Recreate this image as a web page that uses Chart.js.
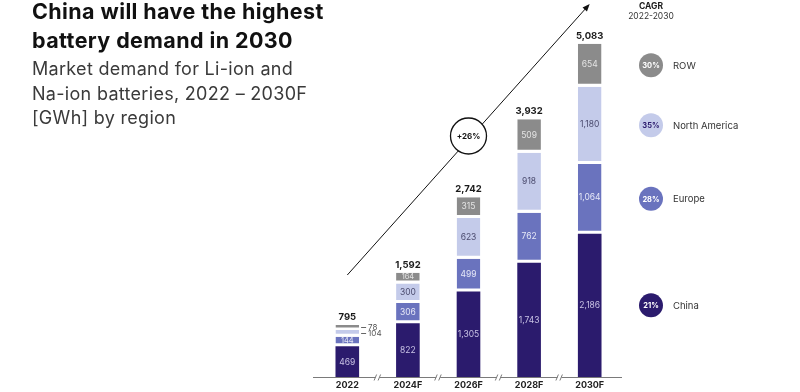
<!DOCTYPE html>
<html><head><meta charset="utf-8">
<script src="https://cdn.jsdelivr.net/npm/chart.js@4/dist/chart.umd.min.js"></script>
<style>
html,body{margin:0;padding:0;background:#fff;width:800px;height:392px;overflow:hidden;}
#wrap{position:relative;width:800px;height:392px;}
canvas{position:absolute;left:0;top:0;}
.t{position:absolute;left:32px;font-family:Inter,sans-serif;white-space:nowrap;}
#title{top:-3px;font-size:21.5px;font-weight:700;line-height:28.5px;color:#111;letter-spacing:0.4px}
#sub{top:57px;font-size:18px;font-weight:400;line-height:24.5px;color:#3a3a3a;letter-spacing:0.3px}
</style></head>
<body><div id="wrap">
<canvas id="c" width="800" height="392"></canvas>
<div class="t" id="title">China will have the highest<br>battery demand in 2030</div>
<div class="t" id="sub">Market demand for Li-ion and<br>Na-ion batteries, 2022 – 2030F<br>[GWh] by region</div>
</div>
<script>
// ---- data ----
const categories = ['2022', '2024F', '2026F', '2028F', '2030F'];
const china = [469, 822, 1305, 1743, 2186];
const europe = [144, 306, 499, 762, 1064];
const northAmerica = [104, 300, 623, 918, 1180];
const rowRegion = [78, 164, 315, 509, 654];
const totalLabels = ['795', '1,592', '2,742', '3,932', '5,083'];
const seriesNames = ['China', 'Europe', 'North America', 'ROW'];
const cagrLabels = ['21%', '28%', '35%', '30%'];
const cagrTitle = 'CAGR';
const cagrPeriod = '2022-2030';
const overallGrowth = '+26%';

// ---- styles ----
const colors = ['#2b1b6d', '#6a73be', '#c4cbea', '#8b8b8b'];
const labelColors = ['#c8c2e4', '#e6e8f7', '#4b4b6e', '#e4e4e4'];
const legendTextColors = ['#ffffff', '#ffffff', '#2b1b6d', '#ffffff'];
const FONT = 'Inter, sans-serif';
const GAP = 3;
const seriesData = [china, europe, northAmerica, rowRegion];

const datasets = seriesData.map((d, i) => ({
  label: seriesNames[i],
  data: d,
  backgroundColor: colors[i],
  borderColor: '#ffffff',
  borderWidth: i === 0 ? 0 : {top: 0, left: 0, right: 0, bottom: GAP},
  borderSkipped: false,
  barPercentage: 0.39,
  categoryPercentage: 1
}));

const annot = {
  id: 'annot',
  afterDatasetsDraw(chart) {
    const ctx = chart.ctx, area = chart.chartArea;
    const xS = chart.scales.x, yS = chart.scales.y;
    const xs = categories.map((c, i) => xS.getPixelForValue(i));
    ctx.save();
    // axis line
    ctx.strokeStyle = '#7a7a7a'; ctx.lineWidth = 1;
    ctx.beginPath(); ctx.moveTo(area.left - 4, area.bottom + 0.5); ctx.lineTo(area.right + 2, area.bottom + 0.5); ctx.stroke();
    // break marks
    for (let i = 0; i < xs.length - 1; i++) {
      const bx = (xs[i] + xs[i + 1]) / 2, by = area.bottom + 0.5;
      ctx.fillStyle = '#fff'; ctx.fillRect(bx - 2, by - 1, 4, 2);
      ctx.beginPath();
      ctx.moveTo(bx - 3.5, by + 3); ctx.lineTo(bx - 1, by - 3);
      ctx.moveTo(bx + 0.5, by + 3); ctx.lineTo(bx + 3, by - 3);
      ctx.stroke();
    }
    // segment labels
    ctx.textAlign = 'center'; ctx.textBaseline = 'middle';
    const ppu = (yS.getPixelForValue(0) - yS.getPixelForValue(1000)) / 1000;
    seriesData.forEach((d, si) => {
      const meta = chart.getDatasetMeta(si);
      meta.data.forEach((el, ci) => {
        const v = d[ci];
        const txt = v.toLocaleString('en-US');
        const h = v * ppu;
        const top = el.y, bot = el.base - (si === 0 ? 0 : GAP);
        const cy = (top + bot) / 2;
        if (h < 8) {
          ctx.strokeStyle = '#666'; ctx.lineWidth = 1;
          const x0 = el.x + el.width / 2 + 2;
          const my = (el.y + el.base) / 2;
          ctx.beginPath(); ctx.moveTo(x0, Math.round(my) + 0.5); ctx.lineTo(x0 + 5, Math.round(my) + 0.5); ctx.stroke();
          ctx.fillStyle = '#555'; ctx.font = '8px ' + FONT; ctx.textAlign = 'left';
          ctx.fillText(txt, x0 + 7, my);
          ctx.textAlign = 'center';
        } else {
          ctx.fillStyle = labelColors[si];
          ctx.font = (h < 14 ? '7.5px ' : '8.5px ') + FONT;
          ctx.fillText(txt, el.x, cy + 0.5);
        }
      });
    });
    // totals
    const lastMeta = chart.getDatasetMeta(seriesData.length - 1);
    ctx.fillStyle = '#1a1a1a'; ctx.font = 'bold 9.5px ' + FONT;
    lastMeta.data.forEach((el, ci) => {
      ctx.fillText(totalLabels[ci], el.x, el.y - 8);
    });
    // growth arrow
    const ax0 = xs[0], ay0 = 275, ax1 = xs[xs.length - 1], ay1 = 4;
    ctx.strokeStyle = '#111'; ctx.lineWidth = 1;
    const ang = Math.atan2(ay1 - ay0, ax1 - ax0);
    ctx.beginPath(); ctx.moveTo(ax0, ay0); ctx.lineTo(ax1 - 5 * Math.cos(ang), ay1 - 5 * Math.sin(ang)); ctx.stroke();
    ctx.fillStyle = '#111';
    ctx.beginPath();
    ctx.moveTo(ax1, ay1);
    ctx.lineTo(ax1 - 8 * Math.cos(ang - 0.38), ay1 - 8 * Math.sin(ang - 0.38));
    ctx.lineTo(ax1 - 8 * Math.cos(ang + 0.38), ay1 - 8 * Math.sin(ang + 0.38));
    ctx.closePath(); ctx.fill();
    // growth circle
    const cx = xs[2], cyc = 136;
    ctx.beginPath(); ctx.arc(cx, cyc, 18, 0, Math.PI * 2);
    ctx.fillStyle = '#fff'; ctx.fill();
    ctx.lineWidth = 1.3; ctx.strokeStyle = '#111'; ctx.stroke();
    ctx.fillStyle = '#111'; ctx.font = 'bold 8px ' + FONT;
    ctx.fillText(overallGrowth, cx, cyc + 0.5);
    // CAGR legend
    const lx = 651;
    ctx.fillStyle = '#1a1a1a'; ctx.font = 'bold 8.5px ' + FONT;
    ctx.fillText(cagrTitle, lx, 6);
    ctx.font = '8.5px ' + FONT; ctx.fillStyle = '#333';
    ctx.fillText(cagrPeriod, lx, 16);
    const last = categories.length - 1;
    let cum = 0;
    seriesData.forEach((d, si) => {
      const v = d[last];
      const ly = yS.getPixelForValue(cum + v / 2);
      cum += v;
      ctx.beginPath(); ctx.arc(lx, ly, 12, 0, Math.PI * 2);
      ctx.fillStyle = colors[si]; ctx.fill();
      ctx.fillStyle = legendTextColors[si]; ctx.font = 'bold 7.5px ' + FONT; ctx.textAlign = 'center';
      ctx.fillText(cagrLabels[si], lx, ly + 0.5);
      ctx.fillStyle = '#333'; ctx.font = '9.5px ' + FONT; ctx.textAlign = 'left';
      ctx.fillText(seriesNames[si], lx + 22, ly + 0.5);
      ctx.textAlign = 'center';
    });
    ctx.restore();
  }
};

new Chart(document.getElementById('c'), {
  type: 'bar',
  data: {labels: categories, datasets},
  options: {
    responsive: false,
    devicePixelRatio: 1,
    animation: false,
    layout: {padding: {left: 317, right: 180, top: 10, bottom: 0}},
    plugins: {legend: {display: false}, tooltip: {enabled: false}},
    scales: {
      x: {
        stacked: true,
        grid: {display: false, drawTicks: false},
        border: {display: false},
        ticks: {font: {family: FONT, size: 9, weight: 'bold'}, color: '#222', padding: 3, maxRotation: 0},
        afterFit(s) { s.height = 15; }
      },
      y: {stacked: true, display: false, min: 0, max: 5600}
    }
  },
  plugins: [annot]
});
</script>
</body></html>
